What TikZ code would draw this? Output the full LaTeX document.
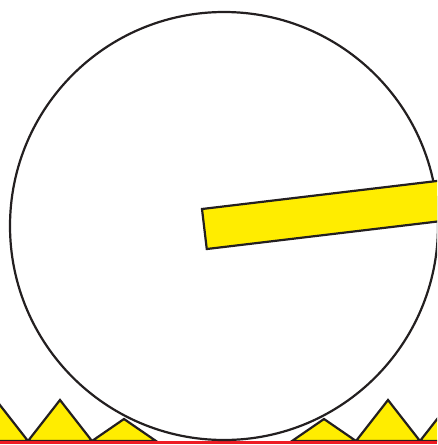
\documentclass[tikz,border=0pt]{standalone}
\definecolor{ink}{HTML}{231F20}
\definecolor{yel}{HTML}{FFED00}
\definecolor{rd}{HTML}{ED1C24}
\begin{document}
\begin{tikzpicture}[x=1pt,y=-1pt,line join=miter,
  bump/.style={fill=yel,draw=ink,line width=2.2pt},
  wheel/.style={fill=white,draw=ink,line width=2.2pt},
  ground/.style={draw=rd,line width=3pt}]
\useasboundingbox (0,0) rectangle (437,445);
\clip (0,0) rectangle (437,445);
% bumps
\draw[bump] (-36,441) -- (-4,400) -- (28,441) -- cycle;
\draw[bump] (28,441) -- (60,400) -- (92,441) -- cycle;
\draw[bump] (92,441) -- (124,419) -- (156,441) -- cycle;
\draw[bump] (292,441) -- (324,419) -- (356,441) -- cycle;
\draw[bump] (356,441) -- (388,400) -- (420,441) -- cycle;
\draw[bump] (420,441) -- (452,400) -- (484,441) -- cycle;
% ground
\coordinate (g1) at (0,442.5);
\coordinate (g2) at (437,442.5);
\draw[ground] (g1) -- (g2);
% wheel
\coordinate (c) at (224,226);
\draw[wheel] (c) circle[radius=214pt];
% spoke
\coordinate (s) at (202,209);
\draw[bump] (s) -- ++(-6.8:240) -- ++(83.2:40.3) -- ++(173.2:240) -- cycle;
\end{tikzpicture}
\end{document}
